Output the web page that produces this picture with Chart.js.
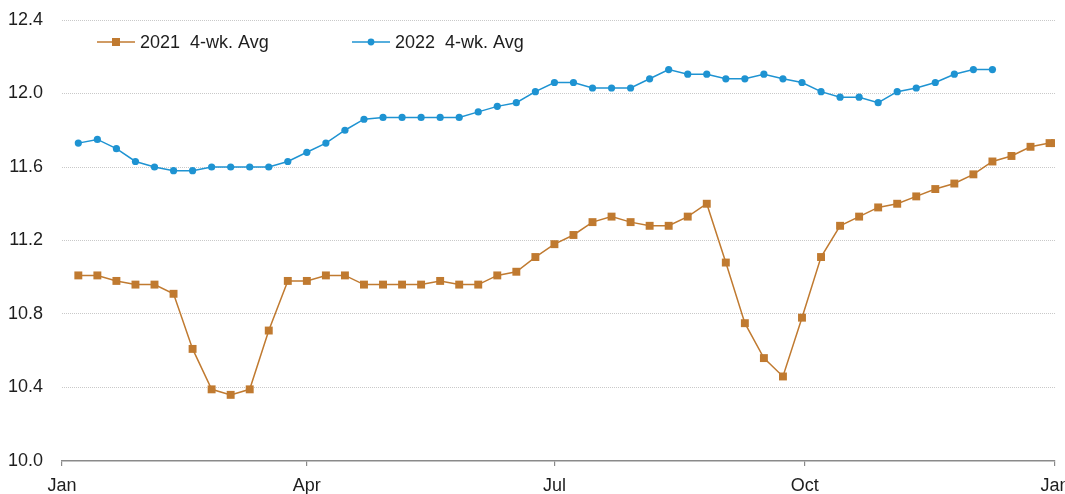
<!DOCTYPE html>
<html>
<head>
<meta charset="utf-8">
<script src="https://cdn.jsdelivr.net/npm/chart.js@4.4.0/dist/chart.umd.min.js"></script>
<style>
  html, body { margin: 0; padding: 0; background: #fff; }
  #wrap { width: 1065px; height: 494px; }
</style>
</head>
<body>
<div id="wrap"><canvas id="avgChart" width="1065" height="494"></canvas></div>
<script>
"use strict";

// day of year for each weekly reading
const weekDays2021 = [6, 13, 20, 27, 34, 41, 48, 55, 62, 69, 76, 83, 90, 97, 104, 111, 118, 125, 132, 139,
  146, 153, 160, 167, 174, 181, 188, 195, 202, 209, 216, 223, 230, 237, 244, 251, 258, 265, 272, 279,
  286, 293, 300, 307, 314, 321, 328, 335, 342, 349, 356, 363, 365];
const weekDays2022 = [6, 13, 20, 27, 34, 41, 48, 55, 62, 69, 76, 83, 90, 97, 104, 111, 118, 125, 132, 139,
  146, 153, 160, 167, 174, 181, 188, 195, 202, 209, 216, 223, 230, 237, 244, 251, 258, 265, 272, 279,
  286, 293, 300, 307, 314, 321, 328, 335, 342];

const avg2021 = [11.01, 11.01, 10.98, 10.96, 10.96, 10.91, 10.61, 10.39, 10.36, 10.39, 10.71, 10.98, 10.98,
  11.01, 11.01, 10.96, 10.96, 10.96, 10.96, 10.98, 10.96, 10.96, 11.01, 11.03, 11.11, 11.18, 11.23, 11.30,
  11.33, 11.30, 11.28, 11.28, 11.33, 11.40, 11.08, 10.75, 10.56, 10.46, 10.78, 11.11, 11.28, 11.33, 11.38,
  11.40, 11.44, 11.48, 11.51, 11.56, 11.63, 11.66, 11.71, 11.73, 11.73];
const avg2022 = [11.73, 11.75, 11.70, 11.63, 11.60, 11.58, 11.58, 11.60, 11.60, 11.60, 11.60, 11.63, 11.68,
  11.73, 11.80, 11.86, 11.87, 11.87, 11.87, 11.87, 11.87, 11.90, 11.93, 11.95, 12.01, 12.06, 12.06, 12.03,
  12.03, 12.03, 12.08, 12.13, 12.105, 12.105, 12.08, 12.08, 12.105, 12.08, 12.06, 12.01, 11.98, 11.98, 11.95,
  12.01, 12.03, 12.06, 12.105, 12.13, 12.13];

const monthTickDays = [0, 90, 181, 273, 365];
const monthTickLabels = ["Jan", "Apr", "Jul", "Oct", "Jan"];

const seriesLabels = ["2021  4-wk. Avg", "2022  4-wk. Avg"];
const seriesColors = ["#c07a30", "#1e93d2"];

const FONT = "'Liberation Sans', Arial, sans-serif";
const TEXT = "#1e1e1e";

function toPoints(days, values) {
  return values.map((v, i) => ({ x: days[i], y: v }));
}

// legend drawn inside the plot, like the original
const insideLegend = {
  id: "insideLegend",
  afterDraw(chart) {
    const ctx = chart.ctx;
    const y = 42;
    const starts = [97, 352];
    ctx.save();
    ctx.font = "18px " + FONT;
    ctx.textBaseline = "middle";
    chart.data.datasets.forEach((ds, i) => {
      const x0 = starts[i];
      const x1 = x0 + 38;
      ctx.strokeStyle = ds.borderColor;
      ctx.lineWidth = 1.5;
      ctx.beginPath();
      ctx.moveTo(x0, y);
      ctx.lineTo(x1, y);
      ctx.stroke();
      ctx.fillStyle = ds.backgroundColor;
      const mx = (x0 + x1) / 2;
      if (ds.pointStyle === "rect") {
        ctx.fillRect(mx - 4, y - 4, 8, 8);
      } else {
        ctx.beginPath();
        ctx.arc(mx, y, 3.4, 0, Math.PI * 2);
        ctx.fill();
      }
      ctx.fillStyle = TEXT;
      ctx.fillText(ds.label, x1 + 5, y + 1);
    });
    ctx.restore();
  }
};

new Chart(document.getElementById("avgChart"), {
  type: "line",
  data: {
    datasets: [
      {
        label: seriesLabels[0],
        data: toPoints(weekDays2021, avg2021),
        borderColor: seriesColors[0],
        backgroundColor: seriesColors[0],
        borderWidth: 1.5,
        pointStyle: "rect",
        pointRadius: 5.6,
        pointBorderWidth: 0,
        tension: 0
      },
      {
        label: seriesLabels[1],
        data: toPoints(weekDays2022, avg2022),
        borderColor: seriesColors[1],
        backgroundColor: seriesColors[1],
        borderWidth: 1.5,
        pointStyle: "circle",
        pointRadius: 3.6,
        pointBorderWidth: 0,
        tension: 0
      }
    ]
  },
  options: {
    responsive: false,
    animation: false,
    layout: { padding: { top: 20, right: 10, left: 0, bottom: 0 } },
    plugins: {
      legend: { display: false },
      tooltip: { enabled: false }
    },
    scales: {
      x: {
        type: "linear",
        min: 0,
        max: 365,
        afterBuildTicks(scale) {
          scale.ticks = monthTickDays.map((d) => ({ value: d }));
        },
        afterFit(scale) {
          scale.height = 33;
          scale.paddingLeft = 0;
          scale.paddingRight = 0;
        },
        ticks: {
          autoSkip: false,
          maxRotation: 0,
          padding: 9,
          color: TEXT,
          font: { family: FONT, size: 18 },
          callback: (value) => {
            const idx = monthTickDays.indexOf(value);
            return idx >= 0 ? monthTickLabels[idx] : "";
          }
        },
        grid: {
          drawOnChartArea: false,
          drawTicks: true,
          tickLength: 5,
          color: "#8a8a8a",
          lineWidth: 1.2
        },
        border: { display: true, color: "#8a8a8a", width: 1.5 }
      },
      y: {
        min: 10,
        max: 12.4,
        afterFit(scale) {
          scale.width = 62;
          scale.paddingTop = 0;
          scale.paddingBottom = 0;
        },
        ticks: {
          stepSize: 0.4,
          padding: 19,
          color: TEXT,
          font: { family: FONT, size: 18 },
          callback: (value) => Number(value).toFixed(1)
        },
        grid: {
          drawTicks: false,
          color: (ctx) => (ctx.index === 0 ? "rgba(0,0,0,0)" : "#c9c9c9"),
          lineWidth: 1
        },
        border: { display: false, dash: [1, 1] }
      }
    }
  },
  plugins: [insideLegend]
});
</script>
</body>
</html>
